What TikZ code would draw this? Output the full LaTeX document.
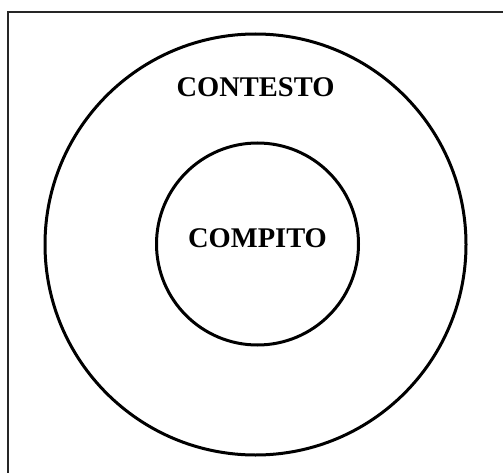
\documentclass[tikz,border=0pt]{standalone}
\usepackage{fontspec}
\setmainfont{Liberation Serif}
\begin{document}
\begin{tikzpicture}[
    x=1pt,y=1pt,
    ring/.style={draw,circle,line width=3pt,inner sep=0pt},
    tag/.style={font=\fontsize{28.5}{30}\selectfont\bfseries,inner sep=0pt}
]
\useasboundingbox (0,0) rectangle (503,-473);
\begin{scope}
\clip (0,0) rectangle (503,-473);
\draw[line width=2pt,black!85] (8,-12) rectangle (530,-500);
\end{scope}
\node[ring,minimum size=421] (contesto) at (255.5,-244.5) {};
\node[ring,minimum size=202] (compito) at (257.5,-244) {};

\node[tag] (lblcontesto) at (255.5,-87) {CONTESTO};
\node[tag] (lblcompito) at (257.5,-238.5) {COMPITO};
\end{tikzpicture}
\end{document}
